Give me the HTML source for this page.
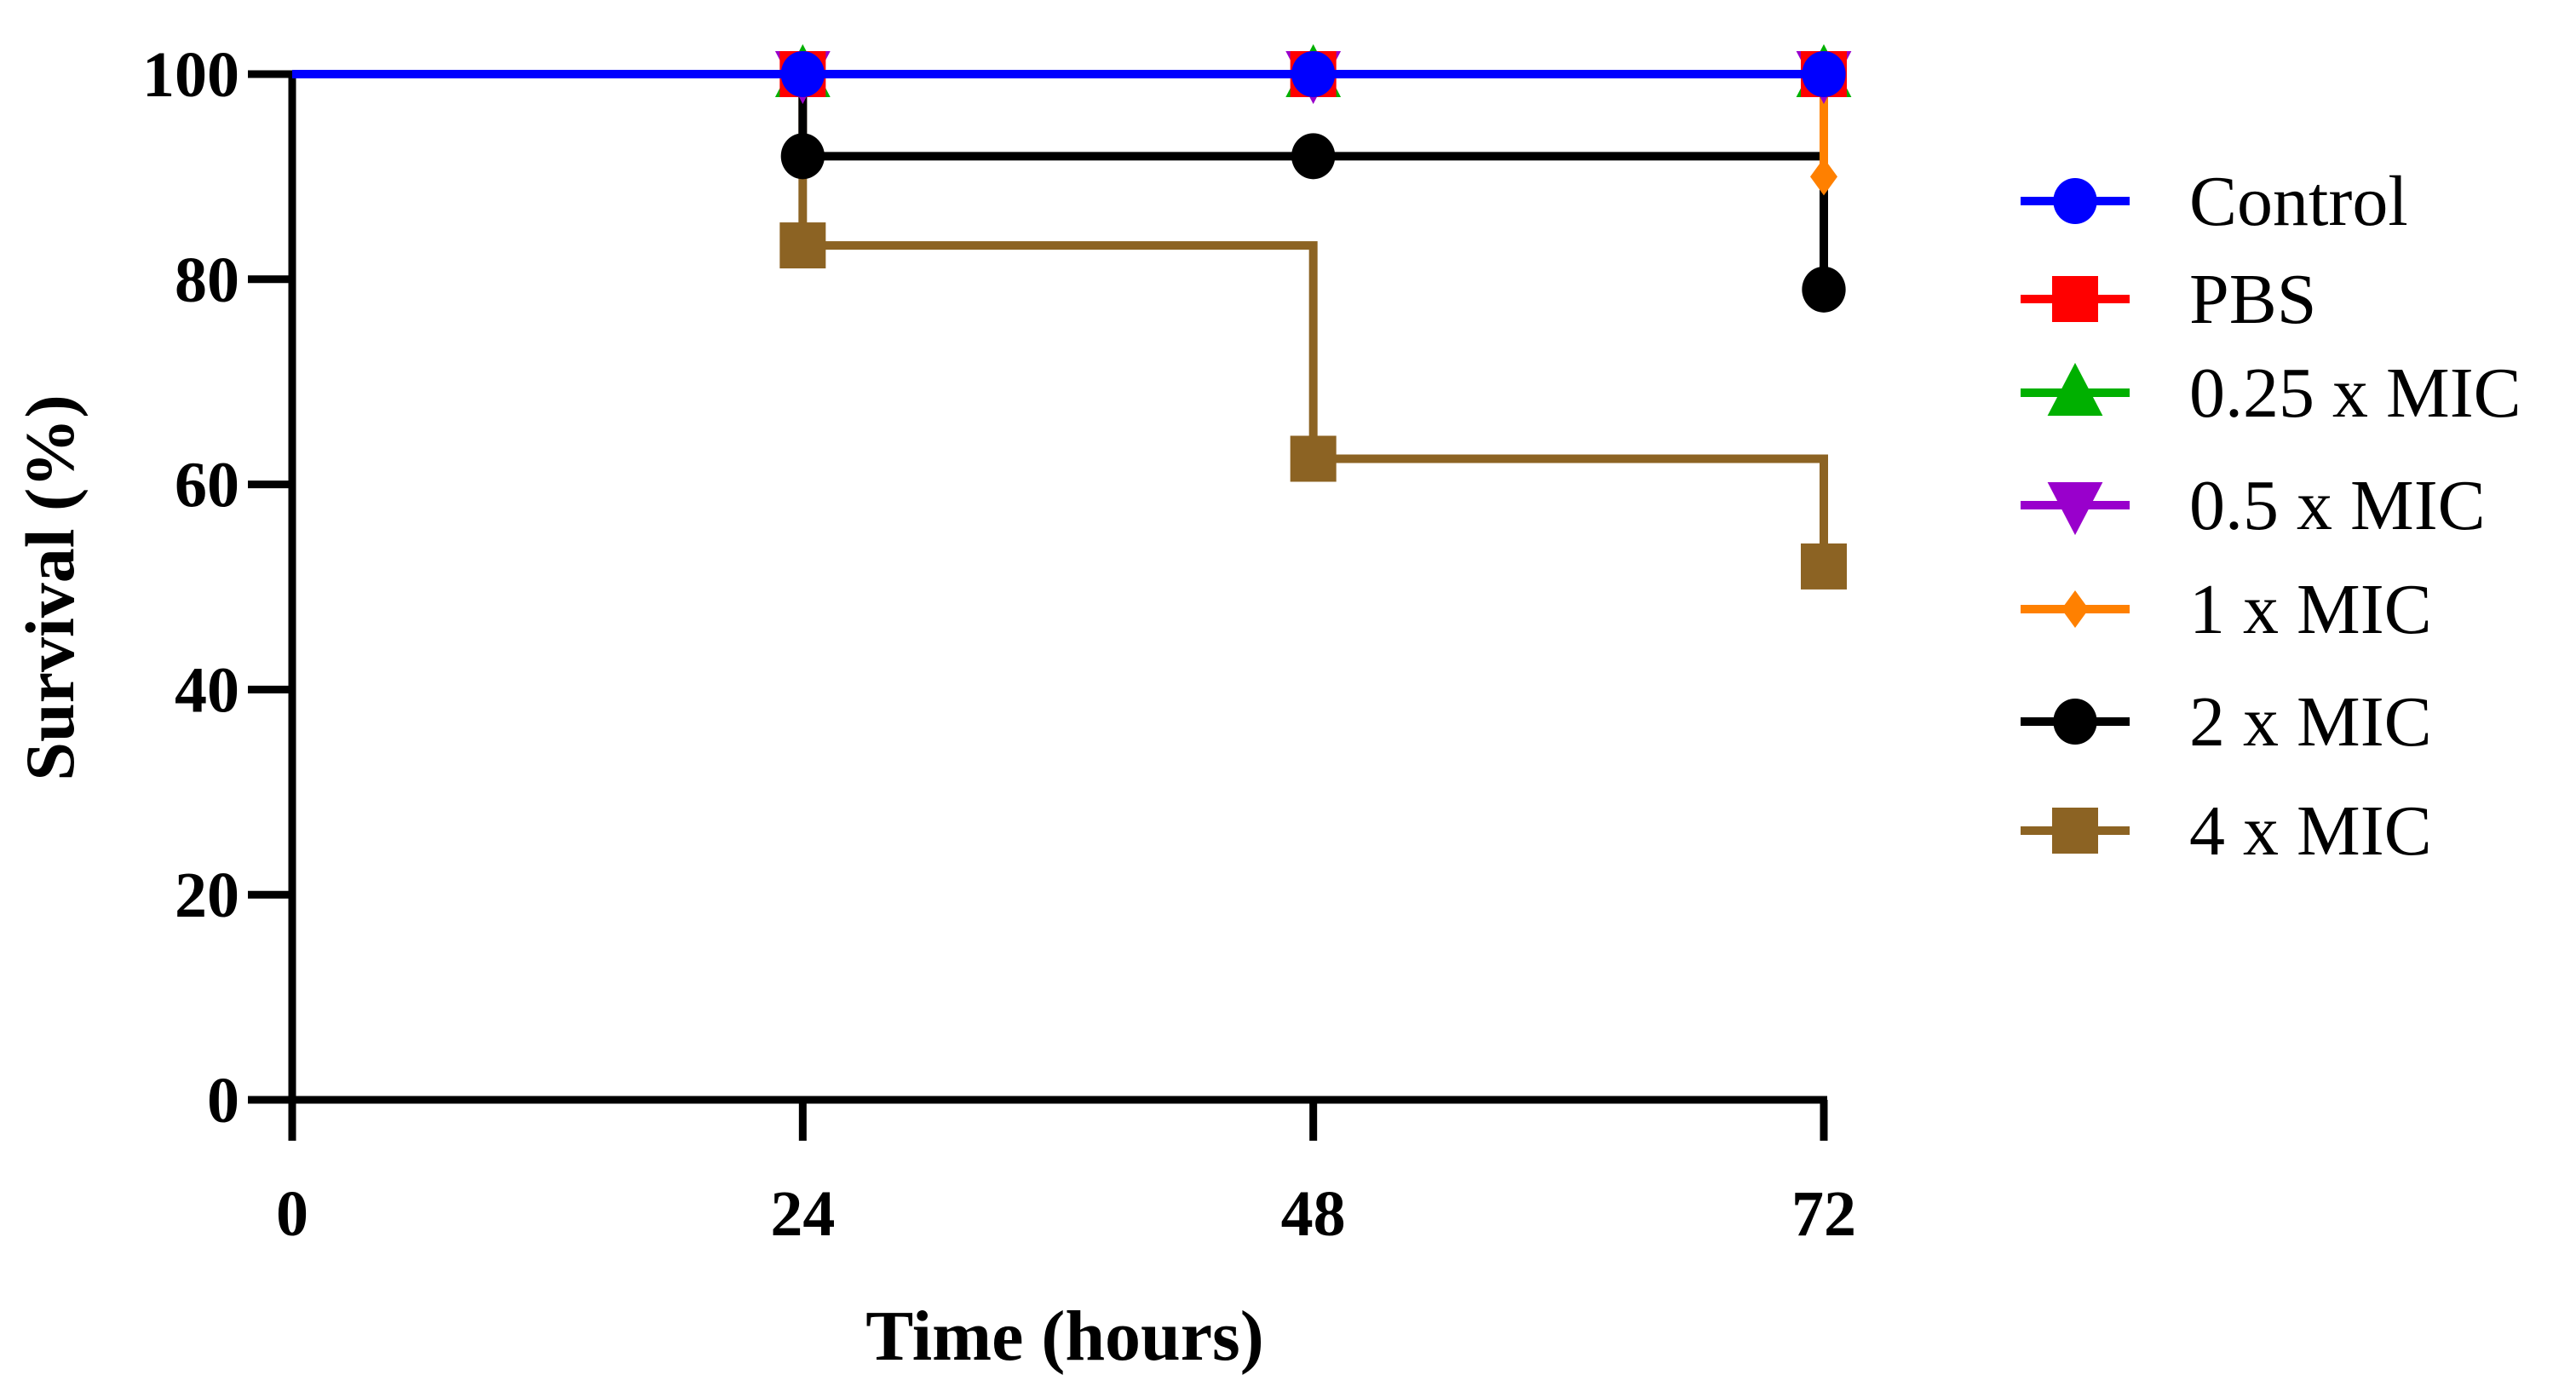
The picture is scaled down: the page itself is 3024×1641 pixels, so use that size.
<!DOCTYPE html>
<html><head><meta charset="utf-8"><style>html,body{margin:0;padding:0;background:#fff}svg{display:block}</style></head>
<body>
<svg id="chart" width="3024" height="1641" viewBox="0 0 3024 1641" xmlns="http://www.w3.org/2000/svg" font-family="'Liberation Serif', serif">
<g id="plot"></g>
</svg>
<script>
const timePoints = [0, 24, 48, 72];
const seriesNames = ["Control","PBS","0.25 x MIC","0.5 x MIC","1 x MIC","2 x MIC","4 x MIC"];
const controlVals = [100,100,100,100];
const pbsVals = [100,100,100,100];
const q025Vals = [100,100,100,100];
const q05Vals = [100,100,100,100];
const mic1Vals = [100,100,100,90];
const mic2Vals = [100,92,92,79];
const mic4Vals = [100,83.3,62.5,52];
const xTicks = [0,24,48,72];
const yTicks = [0,20,40,60,80,100];

const NS="http://www.w3.org/2000/svg";
const g=document.getElementById('plot');
const X0=343,X1=2141,Y0=1291,Y1=87;
const xs=v=>X0+(v-0)/(72-0)*(X1-X0);
const ys=v=>Y0-(v-0)/(100-0)*(Y0-Y1);
function el(t,a,p){const e=document.createElementNS(NS,t);for(const k in a)e.setAttribute(k,a[k]);(p||g).appendChild(e);return e;}

const ax=el('path',{d:`M${X0},${Y1-4}V${Y0}H${X1+4}`,fill:'none',stroke:'#000','stroke-width':9});


yTicks.forEach(v=>{
  const t=el('line',{x1:X0-52,x2:X0,y1:ys(v),y2:ys(v),stroke:'#000','stroke-width':9});
  
  
  const l=el('text',{x:X0-62,y:ys(v)+26,'text-anchor':'end','font-size':76,'font-weight':'bold'});
  l.textContent=v;
  
  
});
xTicks.forEach(v=>{
  const t=el('line',{x1:xs(v),x2:xs(v),y1:Y0,y2:Y0+48,stroke:'#000','stroke-width':9});
  
  
  const l=el('text',{x:xs(v),y:1450,'text-anchor':'middle','font-size':76,'font-weight':'bold'});
  l.textContent=v;
  
  
});
const xt=el('text',{x:1250,y:1596,'text-anchor':'middle','font-size':84,'font-weight':'bold'});
xt.textContent='Time (hours)';


const yt=el('text',{x:0,y:0,'text-anchor':'middle','font-size':82,'font-weight':'bold',transform:'translate(86,690) rotate(-90)'});
yt.textContent='Survival (%)';



const colors=['#0000ff','#ff0000','#00b000','#9900cc','#ff8000','#000000','#8c6323'];
const shapes=['circle','square','tri','tridown','diamond','circle','square'];
const data=[controlVals,pbsVals,q025Vals,q05Vals,mic1Vals,mic2Vals,mic4Vals];
function marker(sh,cx,cy,c,s,parent){
  let e;
  if(sh==='circle') e=el('ellipse',{cx,cy,rx:s*0.95,ry:s,fill:c},parent);
  else if(sh==='square') e=el('rect',{x:cx-s,y:cy-s,width:2*s,height:2*s,fill:c},parent);
  else if(sh==='tri') e=el('path',{d:`M${cx},${cy-s*1.3}L${cx+s*1.2},${cy+s}L${cx-s*1.2},${cy+s}Z`,fill:c},parent);
  else if(sh==='tridown') e=el('path',{d:`M${cx},${cy+s*1.3}L${cx+s*1.2},${cy-s}L${cx-s*1.2},${cy-s}Z`,fill:c},parent);
  else e=el('path',{d:`M${cx},${cy-s*1.1}L${cx+s*0.8},${cy}L${cx},${cy+s*1.1}L${cx-s*0.8},${cy}Z`,fill:c},parent);
  return e;
}
const order=[6,5,4,3,2,1,0];
order.forEach(i=>{
  const vals=data[i];
  const sg=el('g',{});
  
  
  let d=`M${xs(timePoints[0])},${ys(vals[0])}`;
  for(let k=1;k<timePoints.length;k++){d+=`H${xs(timePoints[k])}V${ys(vals[k])}`;}
  el('path',{d,fill:'none',stroke:colors[i],'stroke-width':10},sg);
  for(let k=1;k<timePoints.length;k++){
    const m=marker(shapes[i],xs(timePoints[k]),ys(vals[k]),colors[i],shapes[i]==='diamond'?20:27,sg);
    
    
  }
});
const legY=[236,351,461,593,715,847,975];
seriesNames.forEach((n,i)=>{
  const lg=el('g',{});
  
  
  el('line',{x1:2372,x2:2500,y1:legY[i],y2:legY[i],stroke:colors[i],'stroke-width':10},lg);
  marker(shapes[i],2436,legY[i],colors[i],shapes[i]==='diamond'?20:27,lg);
  const t=el('text',{x:2570,y:legY[i]+28,'font-size':84},lg);
  t.textContent=n;
});
</script>
</body></html>
